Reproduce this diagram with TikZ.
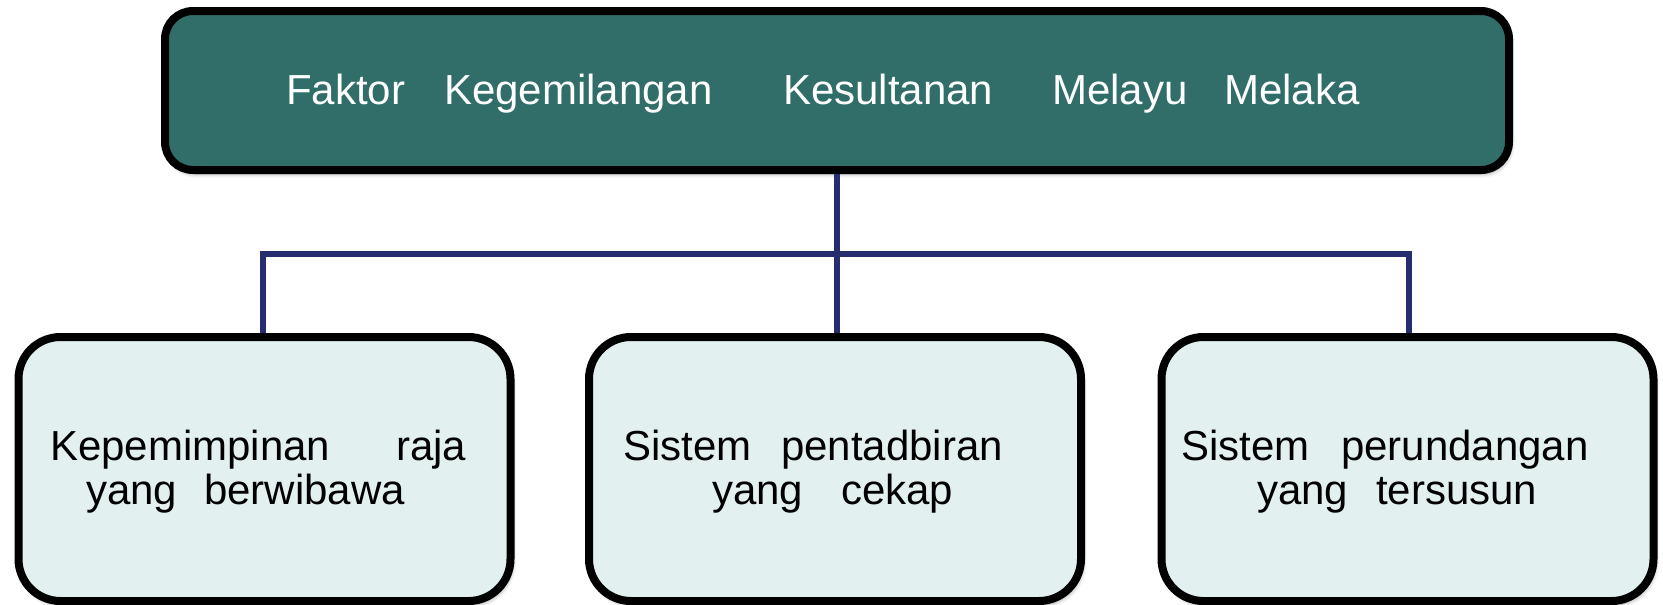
\documentclass[tikz,border=0pt]{standalone}
\usepackage{fontspec}
\setmainfont{Liberation Sans}
\usetikzlibrary{shadows.blur}
\definecolor{topfill}{HTML}{316E6A}
\definecolor{childfill}{HTML}{E2F1F0}
\definecolor{connblue}{HTML}{262D6F}
\tikzset{
  boxshadow/.style={blur shadow={shadow xshift=2pt, shadow yshift=-4pt, shadow blur radius=4pt, shadow blur steps=6, shadow opacity=35}},
  topbox/.style={draw=black, line width=8pt, fill=topfill, rounded corners=28pt, minimum width=1344pt, minimum height=159pt, inner sep=0pt, boxshadow},
  childbox/.style={draw=black, line width=8pt, fill=childfill, rounded corners=42pt, minimum width=492pt, minimum height=264pt, inner sep=0pt, boxshadow},
  conn/.style={draw=connblue, line width=5.5pt},
  lbl/.style={anchor=base west, inner sep=0pt, font=\fontsize{42}{50}\selectfont},
  titlelbl/.style={lbl, text=white},
  childlbl/.style={lbl, text=black}
}
\begin{document}
\begin{tikzpicture}[x=1pt,y=-1pt]
\useasboundingbox (0,0) rectangle (1663,605);
% boxes
\node[topbox] (top) at (837,90.5) {};
\node[childbox] (b1) at (264.5,469) {};
\node[childbox] (b2) at (835,469) {};
\node[childbox] (b3) at (1407.5,469) {};
% connectors
\coordinate (hubL) at (263,254);
\coordinate (hubR) at (1409,254);
\coordinate (hubC) at (837,254);
\draw[conn] (top.south) -- (top.south |- b2.north);
\draw[conn] (hubL |- b1.north) -- (hubL) -- (hubR) -- (hubR |- b3.north);
% title
\node[titlelbl] (title) at (286,104) {\rlap{Faktor}\hspace{158pt}\rlap{Kegemilangan}\hspace{339pt}\rlap{Kesultanan}\hspace{269pt}\rlap{Melayu}\hspace{172pt}Melaka};
% child texts
\node[childlbl] (t1a) at (50,460) {\rlap{Kepemimpinan}\hspace{346pt}raja};
\node[childlbl] (t1b) at (86,504) {\rlap{yang}\hspace{118pt}berwibawa};
\node[childlbl] (t2a) at (623,460) {\rlap{Sistem}\hspace{158pt}pentadbiran};
\node[childlbl] (t2b) at (712,504) {\rlap{yang}\hspace{129pt}cekap};
\node[childlbl] (t3a) at (1181,460) {\rlap{Sistem}\hspace{160pt}perundangan};
\node[childlbl] (t3b) at (1257,504) {\rlap{yang}\hspace{119pt}tersusun};
\end{tikzpicture}
\end{document}
